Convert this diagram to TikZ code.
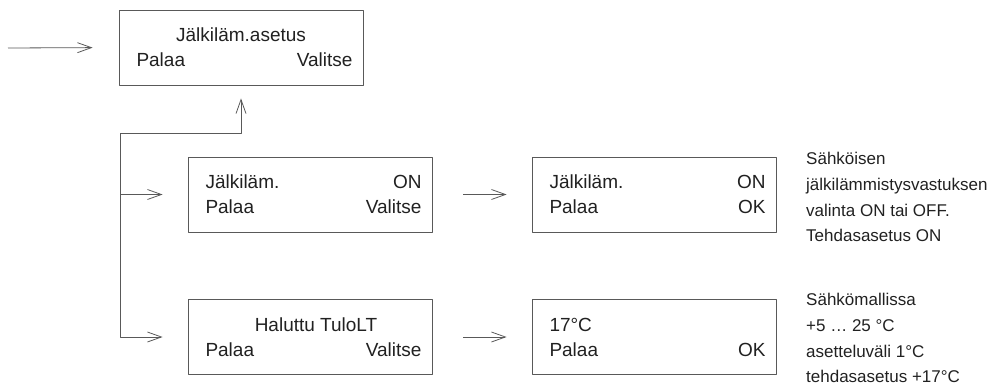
\documentclass[tikz,border=0pt]{standalone}
\usepackage{fontspec}
\setmainfont{Liberation Sans}
\usetikzlibrary{arrows.meta}
\definecolor{linegray}{gray}{0.35}
\definecolor{textgray}{gray}{0.13}
% one display row: left text, right text
\newcommand{\lcdrow}[2]{\makebox[223pt]{\hspace*{7pt}#1\hfill#2}}
\newcommand{\lcdmid}[1]{\makebox[223pt]{#1}}

\begin{document}
\begin{tikzpicture}[x=1pt, y=-1pt, line join=round, >={Straight Barb[length=14pt, width=10pt]},
	every node/.style={text=textgray},
	panel/.style={draw=linegray, line width=0.8pt, minimum width=244pt, minimum height=75pt, inner sep=0pt, align=center, font=\fontsize{19}{25}\selectfont},
	note/.style={anchor=north west, inner sep=0pt, align=left, font=\fontsize{17}{25.8}\selectfont},
	flow/.style={draw=linegray, line width=0.8pt, ->}]
	\useasboundingbox (0,0) rectangle (992,385);
	% displays
	\node[panel] (top) at (241,47.5) {\lcdmid{Jälkiläm.asetus}\\\lcdrow{Palaa}{Valitse}};
	\node[panel] (onoff) at (310,194.5) {\lcdrow{Jälkiläm.}{ON}\\\lcdrow{Palaa}{Valitse}};
	\node[panel] (onoffok) at (654,194.5) {\lcdrow{Jälkiläm.}{ON}\\\lcdrow{Palaa}{OK}};
	\node[panel] (temp) at (310,337) {\lcdmid{\hspace*{12pt}Haluttu TuloLT}\\\lcdrow{Palaa}{Valitse}};
	\node[panel] (tempok) at (654,337) {\lcdrow{17°C}{}\\\lcdrow{Palaa}{OK}};
	% notes
	\node[note] (onoffnote) at (806,152) {Sähköisen\\jälkilämmistysvastuksen\\valinta ON tai OFF.\\Tehdasasetus ON};
	\node[note] (tempnote) at (806,293) {Sähkömallissa\\+5 … 25 °C\\asetteluväli 1°C\\tehdasasetus +17°C};
	% connectors
	\coordinate (in) at (8,48);
	\coordinate (fork) at (120,133);
	\draw[flow, shorten >=26pt] (in) -- (top.west);
	\draw[flow, shorten >=13pt] (fork) -| (top.south);
	\draw[flow, shorten >=25pt] (fork) |- (temp.west);
	\draw[flow, shorten >=25pt] (fork |- onoff.west) -- (onoff.west);
	\draw[flow, shorten <=31pt, shorten >=25pt] (onoff.east) -- (onoffok.west);
	\draw[flow, shorten <=31pt, shorten >=25pt] (temp.east) -- (tempok.west);
\end{tikzpicture}
\end{document}
